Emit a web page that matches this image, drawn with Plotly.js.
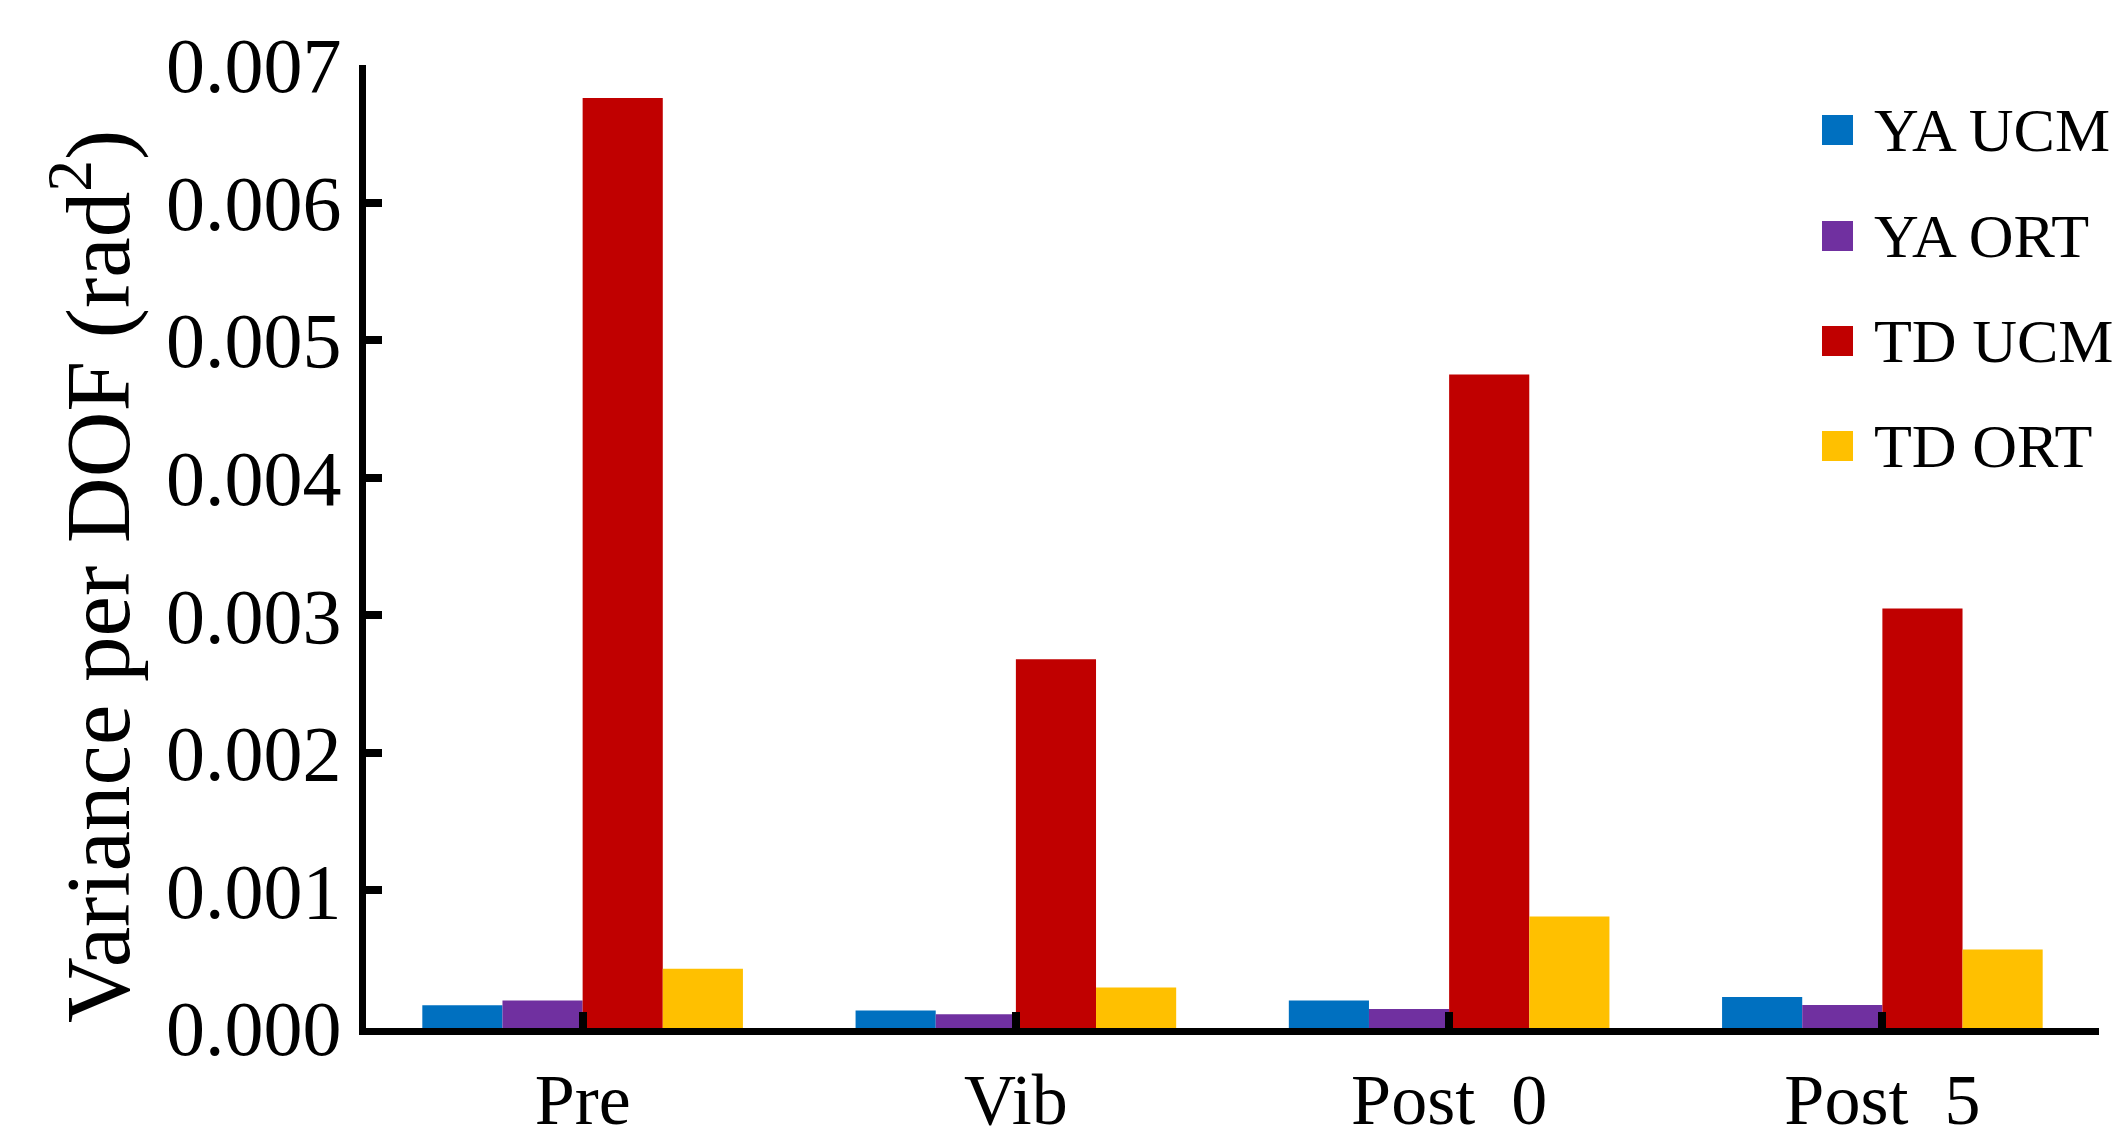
<!DOCTYPE html>
<html>
<head>
<meta charset="utf-8">
<script src="https://cdn.plot.ly/plotly-3.0.1.min.js"></script>
<style>html,body{margin:0;padding:0;background:#fff;}#chart{width:2116px;height:1137px;}</style>
</head>
<body>
<div id="chart"></div>
<script>
// ---- data ----
const categories = ['Pre', 'Vib', 'Post\u00a0\u00a00', 'Post\u00a0\u00a05'];
const seriesNames = ['YA UCM', 'YA ORT', 'TD UCM', 'TD ORT'];
const yaUCM = [0.000165, 0.000128, 0.000200, 0.000225];
const yaORT = [0.000200, 0.000100, 0.000138, 0.000167];
const tdUCM = [0.00676, 0.00268, 0.00475, 0.00305];
const tdORT = [0.000430, 0.000295, 0.000810, 0.000570];
const yTickVals = [0, 0.001, 0.002, 0.003, 0.004, 0.005, 0.006, 0.007];
const yTitle = 'Variance per DOF (rad<sup>2</sup>)';

// ---- styling ----
const colors = ['#0070C0', '#7030A0', '#C00000', '#FFC000'];
const seriesValues = [yaUCM, yaORT, tdUCM, tdORT];
const FONT = '"Liberation Serif", "Times New Roman", serif';

const W = 2116, H = 1137;
const M = {l: 366, r: 17, t: 65, b: 109};
const pw = W - M.l - M.r, ph = H - M.t - M.b;
const px2x = x => (x - M.l) / pw;
const px2y = y => 1 - (y - M.t) / ph;

const traces = seriesNames.map((name, i) => ({
  type: 'bar',
  name: name,
  x: categories,
  y: seriesValues[i],
  marker: {color: colors[i], line: {width: 0}},
  showlegend: false,
  hoverinfo: 'x+y+name'
}));

// manual legend (large square swatches)
const legendY = [130, 236, 341, 446];
const shapes = [];
const annotations = [];
seriesNames.forEach((name, i) => {
  const cy = legendY[i];
  shapes.push({
    type: 'rect', xref: 'paper', yref: 'paper',
    x0: px2x(1822), x1: px2x(1853), y0: px2y(cy + 15), y1: px2y(cy - 15),
    fillcolor: colors[i], line: {width: 0}
  });
  annotations.push({
    xref: 'paper', yref: 'paper', x: px2x(1872), y: px2y(cy),
    xanchor: 'left', yanchor: 'middle', showarrow: false,
    text: name, font: {family: FONT, size: 62, color: '#000'}
  });
});

// y-axis title
annotations.push({
  xref: 'paper', yref: 'paper', x: px2x(91), y: px2y(577),
  xanchor: 'center', yanchor: 'middle', showarrow: false, textangle: -90,
  text: yTitle, font: {family: FONT, size: 91, color: '#000'}
});

const layout = {
  width: W, height: H,
  margin: M,
  paper_bgcolor: '#fff', plot_bgcolor: '#fff',
  barmode: 'group',
  bargap: 0.26,
  bargroupgap: 0,
  showlegend: false,
  font: {family: FONT, color: '#000'},
  xaxis: {
    type: 'category',
    range: [-0.5, 3.5],
    tickmode: 'array',
    tickvals: [-0.5, 0, 1, 2, 3, 3.5],
    ticktext: [''].concat(categories, ['']),
    ticks: 'inside', ticklen: 16, tickwidth: 8, tickcolor: '#000',
    showline: true, linecolor: '#000', linewidth: 7,
    showgrid: false, zeroline: false,
    tickfont: {family: FONT, size: 72, color: '#000'},
    ticklabelstandoff: 3,
    automargin: false,
    fixedrange: true
  },
  yaxis: {
    range: [0, 0.007],
    tickmode: 'array',
    tickvals: yTickVals,
    tickformat: '.3f',
    ticks: 'inside', ticklen: 16, tickwidth: 8, tickcolor: '#000',
    showline: true, linecolor: '#000', linewidth: 7,
    showgrid: false, zeroline: false,
    tickfont: {family: FONT, size: 78, color: '#000'},
    ticklabelstandoff: 2,
    automargin: false,
    fixedrange: true
  },
  shapes: shapes,
  annotations: annotations
};

Plotly.newPlot('chart', traces, layout, {displayModeBar: false, staticPlot: true});
</script>
</body>
</html>
